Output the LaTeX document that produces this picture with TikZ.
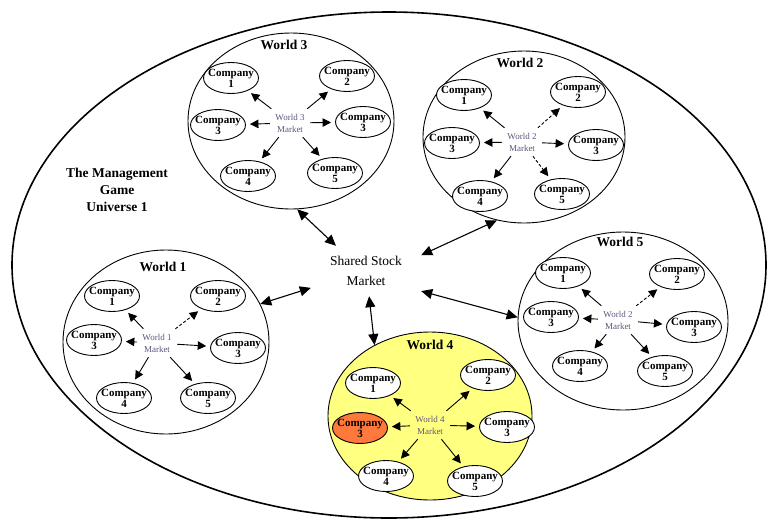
\documentclass[tikz,border=0pt]{standalone}
\usepackage{fontspec}
\setmainfont{Liberation Serif}
\usetikzlibrary{shapes.geometric,arrows.meta}
\definecolor{wyellow}{RGB}{255,255,128}
\definecolor{corange}{RGB}{255,120,60}
\definecolor{mktc}{RGB}{95,85,125}
\begin{document}
\begin{tikzpicture}[x=1pt,y=-1pt,
 world/.style={draw, ellipse, line width=0.9pt, inner sep=0pt, fill=white},
 comp/.style={draw, ellipse, line width=0.9pt, fill=white, minimum width=55pt, minimum height=31pt, inner sep=0pt},
 clab/.style={align=center, inner sep=0pt, font=\fontsize{11}{11}\selectfont\bfseries},
 wtitle/.style={font=\fontsize{13.5}{13.5}\selectfont\bfseries},
 mkt/.style={align=center, text=mktc, font=\fontsize{9}{12}\selectfont, minimum width=40pt, minimum height=28pt, inner sep=0pt},
 arr/.style={-{Triangle[length=8.5pt,width=8.5pt]}, line width=0.9pt, shorten >=4pt},
 darr/.style={arr, densely dashed},
 barr/.style={{Triangle[length=11pt,width=10pt]}-{Triangle[length=11pt,width=10pt]}, line width=1.1pt}
]
\newcommand\mkcomp[4][]{\node[comp,#1,label={[clab]center:{Company\\#4}}] (#2) at (#3) {};}
\useasboundingbox (0,0) rectangle (769,523);
\node[draw, ellipse, line width=1.6pt, minimum width=754pt, minimum height=506pt, inner sep=0pt] (univ) at (389,265) {};
\node[align=center, font=\fontsize{13.5}{17}\selectfont\bfseries] (ttl) at (117,190) {The Management\\Game\\Universe 1};

% World 3
\node[world, minimum width=206pt, minimum height=176pt] (w3) at (291,121) {};
\node[wtitle] (t3) at (284,45) {World 3};
\node[mkt] (m3) at (290,123) {World 3\\Market};
\mkcomp{c31}{231,78}{1}
\mkcomp{c32}{347,76}{2}
\mkcomp{c33}{218,125}{3}
\mkcomp{c36}{363,122}{3}
\mkcomp{c34}{248,176}{4}
\mkcomp{c35}{335,173}{5}
\foreach \c in {1,2,3,4,5,6} \draw[arr] (m3) -- (c3\c);

% World 2
\node[world, minimum width=202pt, minimum height=172pt] (w2) at (524,137) {};
\node[wtitle] (t2) at (520,63) {World 2};
\node[mkt] (m2) at (522,142) {World 2\\Market};
\mkcomp{c21}{464,95}{1}
\mkcomp{c22}{578,92}{2}
\mkcomp{c23}{452,143}{3}
\mkcomp{c26}{596,145}{3}
\mkcomp{c24}{480,196}{4}
\mkcomp{c25}{562,194}{5}
\foreach \c in {1,3,4,6} \draw[arr] (m2) -- (c2\c);
\foreach \c in {2,5} \draw[darr] (m2) -- (c2\c);

% World 1
\node[world, minimum width=206pt, minimum height=184pt] (w1) at (166,342) {};
\node[wtitle] (t1) at (163,267) {World 1};
\node[mkt] (m1) at (157,343) {World 1\\Market};
\mkcomp{c11}{112,296}{1}
\mkcomp{c12}{218,296}{2}
\mkcomp{c13}{94,340}{3}
\mkcomp{c16}{238,348}{3}
\mkcomp{c14}{124,398}{4}
\mkcomp{c15}{208,398}{5}
\foreach \c in {1,3,4,5,6} \draw[arr] (m1) -- (c1\c);
\draw[darr] (m1) -- (c12);

% World 5
\node[world, minimum width=210pt, minimum height=178pt] (w5) at (623,321) {};
\node[wtitle] (t5) at (620,242) {World 5};
\node[mkt] (m5) at (618,320) {World 2\\Market};
\mkcomp{c51}{563,273}{1}
\mkcomp{c52}{677,274}{2}
\mkcomp{c53}{551,317}{3}
\mkcomp{c56}{694,327}{3}
\mkcomp{c54}{580,366}{4}
\mkcomp{c55}{665,371}{5}
\foreach \c in {1,3,4,5,6} \draw[arr] (m5) -- (c5\c);
\draw[darr] (m5) -- (c52);

% World 4
\node[world, fill=wyellow, minimum width=204pt, minimum height=168pt] (w4) at (430,416) {};
\node[wtitle] (t4) at (430,345) {World 4};
\node[mkt] (m4) at (430,425) {World 4\\Market};
\mkcomp{c41}{373,383}{1}
\mkcomp{c42}{488,375}{2}
\mkcomp[fill=corange]{c43}{360,428}{3}
\mkcomp{c46}{507,427}{3}
\mkcomp{c44}{386,476}{4}
\mkcomp{c45}{475,481}{5}
\foreach \c in {1,2,3,4,5,6} \draw[arr] (m4) -- (c4\c);

% Shared stock market
\node[align=center, font=\fontsize{13.5}{20}\selectfont, minimum width=110pt, minimum height=50pt, inner sep=0pt] (sm) at (366,271) {Shared Stock\\Market};
\draw[barr] (sm.140) -- (w3.-86);
\draw[barr] (sm.16) -- (w2.-108);
\draw[barr] (sm.-163) -- (w1.22);
\draw[barr] (sm.-83) -- (w4.128);
\draw[barr] (sm.-20) -- (w5.178);
\end{tikzpicture}
\end{document}
